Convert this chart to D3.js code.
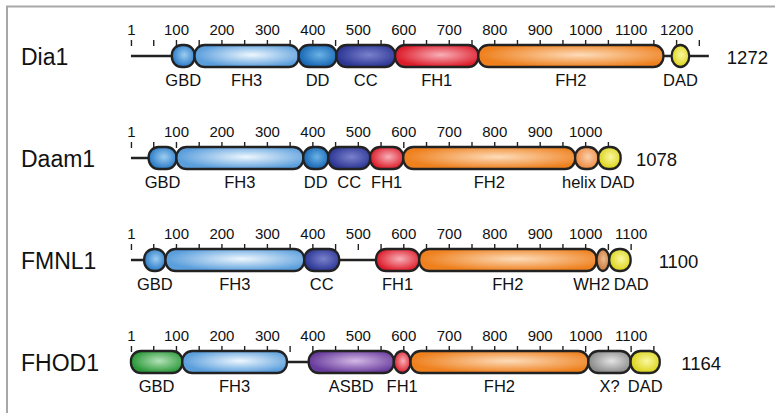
<!DOCTYPE html>
<html><head><meta charset="utf-8">
<script src="https://cdn.jsdelivr.net/npm/d3@7"></script>
<style>
body{margin:0;background:#fff}
svg{display:block}
text{font-family:"Liberation Sans",Arial,Helvetica,sans-serif;fill:#111}
</style>
</head><body>
<svg id="c" width="775" height="413"></svg>
<script>
// ---- data ----
const proteins = ["Dia1", "Daam1", "FMNL1", "FHOD1"];
const lengths = [1272, 1078, 1100, 1164];
const dia1Domains = [["GBD", 91, 141], ["FH3", 141, 370], ["DD", 370, 453], ["CC", 453, 582], ["FH1", 582, 765], ["FH2", 765, 1172], ["DAD", 1190, 1229]];
const daam1Domains = [["GBD", 40, 101], ["FH3", 101, 380], ["DD", 380, 435], ["CC", 435, 527], ["FH1", 527, 600], ["FH2", 600, 978], ["helix", 978, 1029], ["DAD", 1029, 1078]];
const fmnl1Domains = [["GBD", 30, 77], ["FH3", 77, 382], ["CC", 382, 459], ["FH1", 540, 635], ["FH2", 635, 1025], ["WH2", 1025, 1053], ["DAD", 1053, 1100]];
const fhod1Domains = [["GBD", 1, 114], ["FH3", 114, 344], ["ASBD", 392, 579], ["FH1", 579, 616], ["FH2", 616, 1007], ["X?", 1007, 1100], ["DAD", 1100, 1164]];
const domainSets = [dia1Domains, daam1Domains, fmnl1Domains, fhod1Domains];
const tickStep = 50, labelStep = 100;

// ---- styles ----
const palette = {
  GBD:   ["#9ccdf2", "#2a7ac6"],
  GBD2:  ["#b4e2b8", "#2a9838"],
  FH3:   ["#eef7fe", "#5a9edc"],
  DD:    ["#6ab2e6", "#1866b4"],
  CC:    ["#7a82cc", "#2c3694"],
  FH1:   ["#f8b0b8", "#dc1c2a"],
  FH2:   ["#fddcba", "#ee801e"],
  DAD:   ["#fbf8a0", "#dad218"],
  helix: ["#fad0ac", "#ee883e"],
  WH2:   ["#ecbc90", "#c8783e"],
  "X?":  ["#e4e4e4", "#8a8a8a"],
  ASBD:  ["#d4b8e6", "#683c9c"]
};
const colorOverride = {"FHOD1:GBD": "GBD2"};

const svg = d3.select("#c");
// frame
svg.append("path").attr("d", "M7,420 V6.5 H780").attr("fill", "none").attr("stroke", "#a8a8a8").attr("stroke-width", 2);

const defs = svg.append("defs");
Object.entries(palette).forEach(([k, [c0, c1]], i) => {
  const g = defs.append("radialGradient").attr("id", "g" + i).attr("cx", 0.55).attr("cy", 0.45).attr("r", 0.55);
  g.append("stop").attr("offset", "0%").attr("stop-color", c0);
  g.append("stop").attr("offset", "100%").attr("stop-color", c1);
  palette[k].id = "g" + i;
});

const x = d3.scaleLinear().domain([0, 1300]).range([130.5, 130.5 + 1300 * 0.45466]);
const y = d3.scalePoint().domain(proteins).range([56, 362]);
const barH = 22;

proteins.forEach((p, pi) => {
  const len = lengths[pi];
  const cy = y(p);
  const row = svg.append("g");

  // name
  row.append("text").attr("x", 21).attr("y", cy + 9).attr("font-size", 23).text(p);

  // backbone
  row.append("line").attr("x1", x(1)).attr("x2", x(len)).attr("y1", cy).attr("y2", cy)
    .attr("stroke", "#222").attr("stroke-width", 2.6);

  // axis
  const lastTick = Math.floor(len / tickStep) * tickStep;
  const vals = [1].concat(d3.range(tickStep, lastTick + 1, tickStep));
  const axis = d3.axisTop(x).tickValues(vals).tickSize(6).tickPadding(5)
    .tickFormat(v => (v === 1 || v % labelStep === 0) ? v : "");
  const ag = row.append("g").attr("transform", `translate(0,${cy - 10})`).call(axis);
  ag.select(".domain").remove();
  ag.selectAll(".tick line").attr("stroke", "#222").attr("stroke-width", 1.4);
  ag.selectAll(".tick text").attr("font-size", 15).attr("fill", "#111")
    .attr("font-family", '"Liberation Sans",Arial,sans-serif');

  // domains
  const doms = domainSets[pi].map(([label, s, e]) => ({label, s, e}));
  row.selectAll("rect.dom").data(doms).join("rect").attr("class", "dom")
    .attr("x", d => x(d.s)).attr("y", cy - barH / 2)
    .attr("width", d => x(d.e) - x(d.s)).attr("height", barH)
    .attr("rx", d => Math.min((x(d.e) - x(d.s)) / 2, 10))
    .attr("ry", d => (x(d.e) - x(d.s)) / 2 < 10 ? barH / 2 : 10)
    .attr("fill", d => `url(#${palette[colorOverride[p + ":" + d.label] || d.label].id})`)
    .attr("stroke", "#222").attr("stroke-width", 2.3);

  // domain labels
  const labs = row.selectAll("text.lab").data(doms).join("text").attr("class", "lab")
    .attr("text-anchor", "middle").attr("font-size", 16.5)
    .attr("y", cy + 29.5).attr("x", d => (x(d.s) + x(d.e)) / 2).text(d => d.label);
  const nodes = labs.nodes();
  const c = doms.map(d => (x(d.s) + x(d.e)) / 2);
  const w = nodes.map(n => n.getComputedTextLength());
  const gap = 4;
  for (let it = 0; it < 30; it++) {
    for (let i = 0; i < c.length - 1; i++) {
      const ov = (c[i] + w[i] / 2 + gap) - (c[i + 1] - w[i + 1] / 2);
      if (ov > 0) { c[i] -= ov / 2; c[i + 1] += ov / 2; }
    }
  }
  labs.attr("x", (d, i) => c[i]);

  // length
  row.append("text").attr("x", x(lastTick) + 28).attr("y", cy + 7.5).attr("font-size", 18.5).text(len);
});
</script>
</body></html>
